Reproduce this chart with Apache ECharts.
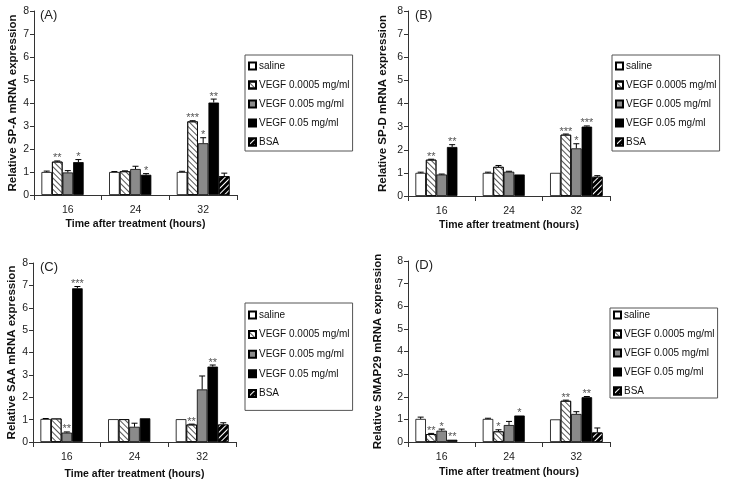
<!DOCTYPE html>
<html>
<head>
<meta charset="utf-8">
<script src="https://cdn.jsdelivr.net/npm/echarts@6/dist/echarts.min.js"></script>
<style>
html,body{margin:0;padding:0;background:#fff;}
#chart{width:729px;height:488px;}
</style>
</head>
<body>
<div id="chart"></div>
<script>
// ---------- DATA ----------
const categories = ['16', '24', '32'];
const seriesNames = ['saline', 'VEGF 0.0005 mg/ml', 'VEGF 0.005 mg/ml', 'VEGF 0.05 mg/ml', 'BSA'];
const yMin = 0, yMax = 8, yInterval = 1;

// (A) SP-A
const spaSaline = [1.0, 1.0, 1.0];
const spaV0005  = [1.45, 1.03, 3.2];
const spaV005   = [0.98, 1.13, 2.25];
const spaV05    = [1.43, 0.88, 4.02];
const spaBSA    = [null, null, 0.82];
const spaErrSaline = [0.04, 0.02, 0.03];
const spaErrV0005  = [0.03, 0.02, 0.03];
const spaErrV005   = [0.08, 0.12, 0.24];
const spaErrV05    = [0.11, 0.05, 0.15];
const spaErrBSA    = [null, null, 0.13];
const spaStarsV0005 = ['**', '', '***'];
const spaStarsV005  = ['', '', '*'];
const spaStarsV05   = ['*', '*', '**'];

// (B) SP-D
const spdSaline = [1.0, 1.0, 1.0];
const spdV0005  = [1.57, 1.26, 2.65];
const spdV005   = [0.93, 1.05, 2.06];
const spdV05    = [2.12, 0.93, 3.0];
const spdBSA    = [null, null, 0.83];
const spdErrSaline = [0.03, 0.03, 0.0];
const spdErrV0005  = [0.02, 0.06, 0.03];
const spdErrV005   = [0.02, 0.02, 0.2];
const spdErrV05    = [0.1, 0.0, 0.03];
const spdErrBSA    = [null, null, 0.05];
const spdStarsV0005 = ['**', '', '***'];
const spdStarsV005  = ['', '', '*'];
const spdStarsV05   = ['**', '', '***'];

// (C) SAA
const saaSaline = [1.03, 1.02, 1.02];
const saaV0005  = [1.05, 1.02, 0.78];
const saaV005   = [0.42, 0.68, 2.35];
const saaV05    = [6.87, 1.06, 3.37];
const saaBSA    = [null, null, 0.78];
const saaErrSaline = [0.02, 0.0, 0.0];
const saaErrV0005  = [0.0, 0.0, 0.02];
const saaErrV005   = [0.03, 0.16, 0.6];
const saaErrV05    = [0.08, 0.0, 0.07];
const saaErrBSA    = [null, null, 0.08];
const saaStarsV0005 = ['', '', '**'];
const saaStarsV005  = ['**', '', ''];
const saaStarsV05   = ['***', '', '**'];

// (D) SMAP29
const smapSaline = [1.02, 1.02, 1.0];
const smapV0005  = [0.35, 0.47, 1.82];
const smapV005   = [0.5, 0.75, 1.24];
const smapV05    = [0.1, 1.17, 1.98];
const smapBSA    = [null, null, 0.42];
const smapErrSaline = [0.08, 0.03, 0.0];
const smapErrV0005  = [0.03, 0.07, 0.03];
const smapErrV005   = [0.07, 0.16, 0.1];
const smapErrV05    = [0.0, 0.0, 0.03];
const smapErrBSA    = [null, null, 0.2];
const smapStarsV0005 = ['**', '*', '**'];
const smapStarsV005  = ['*', '', ''];
const smapStarsV05   = ['**', '*', '**'];

// ---------- LAYOUT / STYLE ----------
const FONT = '"Liberation Sans", Arial, Helvetica, sans-serif';
const panels = [
  { tag: '(A)', yName: 'Relative SP-A mRNA expression',
    vals: [spaSaline, spaV0005, spaV005, spaV05, spaBSA],
    errs: [spaErrSaline, spaErrV0005, spaErrV005, spaErrV05, spaErrBSA],
    stars: [null, spaStarsV0005, spaStarsV005, spaStarsV05, null],
    grid: { left: 34, top: 11, width: 203, height: 184 }, yGap: 15, xGap: 24,
    legend: { left: 245, top: 55, padding: [5, 3, 3, 3], itemGap: 7 },
    tagPos: { left: 40, top: 9 } },
  { tag: '(B)', yName: 'Relative SP-D mRNA expression',
    vals: [spdSaline, spdV0005, spdV005, spdV05, spdBSA],
    errs: [spdErrSaline, spdErrV0005, spdErrV005, spdErrV05, spdErrBSA],
    stars: [null, spdStarsV0005, spdStarsV005, spdStarsV05, null],
    grid: { left: 408, top: 11, width: 202, height: 185 }, yGap: 19, xGap: 24,
    legend: { left: 612, top: 55, padding: [5, 3, 3, 3], itemGap: 7 },
    tagPos: { left: 415, top: 9 } },
  { tag: '(C)', yName: 'Relative SAA mRNA expression',
    vals: [saaSaline, saaV0005, saaV005, saaV05, saaBSA],
    errs: [saaErrSaline, saaErrV0005, saaErrV005, saaErrV05, saaErrBSA],
    stars: [null, saaStarsV0005, saaStarsV005, saaStarsV05, null],
    grid: { left: 33, top: 263, width: 203, height: 179 }, yGap: 15, xGap: 27,
    legend: { left: 245, top: 303, padding: [6, 3, 11, 3], itemGap: 7.6 },
    tagPos: { left: 40, top: 261 } },
  { tag: '(D)', yName: 'Relative SMAP29 mRNA expression',
    vals: [smapSaline, smapV0005, smapV005, smapV05, smapBSA],
    errs: [smapErrSaline, smapErrV0005, smapErrV005, smapErrV05, smapErrBSA],
    stars: [null, smapStarsV0005, smapStarsV005, smapStarsV05, null],
    grid: { left: 408, top: 261, width: 202, height: 181 }, yGap: 24, xGap: 25,
    legend: { left: 610, top: 308, padding: [1, 3, 1, 3], itemGap: 7 },
    tagPos: { left: 415, top: 259 } }
];

const hatchLight = { symbol: 'rect', symbolSize: 1, color: '#555', dashArrayX: [1, 0], dashArrayY: [0.8, 2.6], rotation: Math.PI / 4 };
const hatchDark  = { symbol: 'rect', symbolSize: 1, color: '#fff', dashArrayX: [1, 0], dashArrayY: [0.9, 2.6], rotation: -Math.PI / 4 };
const barStyles = [
  { color: '#ffffff' },
  { color: '#ffffff', decal: hatchLight },
  { color: '#8a8a8a' },
  { color: '#000000' },
  { color: '#000000', decal: hatchDark }
];
const GAP = 0.22;

const option = {
  animation: false,
  backgroundColor: '#ffffff',
  title: [], grid: [], xAxis: [], yAxis: [], legend: [], series: []
};

panels.forEach((p, k) => {
  option.title.push({ text: p.tag, left: p.tagPos.left, top: p.tagPos.top, padding: 0,
    textStyle: { fontFamily: FONT, fontSize: 13, fontWeight: 'normal', color: '#222' } });
  option.grid.push(Object.assign({ containLabel: false }, p.grid));
  option.xAxis.push({
    type: 'category', gridIndex: k, data: categories,
    name: 'Time after treatment (hours)', nameLocation: 'middle', nameGap: p.xGap,
    nameTextStyle: { fontFamily: FONT, fontSize: 10.5, fontWeight: 'bold', color: '#111' },
    axisLine: { lineStyle: { color: '#333', width: 1 } },
    axisTick: { show: true, length: 5, lineStyle: { color: '#333' } },
    axisLabel: { fontFamily: FONT, fontSize: 10.5, color: '#222', margin: 10 },
    splitLine: { show: false }
  });
  option.yAxis.push({
    type: 'value', gridIndex: k, min: yMin, max: yMax, interval: yInterval,
    name: p.yName, nameLocation: 'middle', nameGap: p.yGap, nameRotate: 90,
    nameMoveOverlap: false,
    nameTextStyle: { fontFamily: FONT, fontSize: 11.5, fontWeight: 'bold', color: '#111' },
    axisLine: { show: true, lineStyle: { color: '#333', width: 1 } },
    axisTick: { show: true, length: 4, lineStyle: { color: '#333' } },
    axisLabel: { fontFamily: FONT, fontSize: 10.5, color: '#222', margin: 5 },
    splitLine: { show: false }
  });
  option.legend.push({
    orient: 'vertical', left: p.legend.left, top: p.legend.top,
    padding: p.legend.padding, itemGap: p.legend.itemGap,
    itemWidth: 7, itemHeight: 7, icon: 'rect',
    borderColor: '#555', borderWidth: 1, backgroundColor: '#fff',
    selectedMode: false, data: seriesNames,
    textStyle: { fontFamily: FONT, fontSize: 10, color: '#111', lineHeight: 12, padding: [0, 0, 0, -2] }
  });
  seriesNames.forEach((name, i) => {
    option.series.push({
      type: 'bar', name: name, xAxisIndex: k, yAxisIndex: k,
      data: p.vals[i], barGap: '0%', barCategoryGap: (GAP * 100) + '%',
      itemStyle: Object.assign({ borderColor: '#000', borderWidth: 0.8 }, barStyles[i]),
      emphasis: { disabled: true }, z: 2
    });
  });
  // error bars + significance marks
  const items = [];
  for (let i = 0; i < seriesNames.length; i++) {
    for (let c = 0; c < categories.length; c++) {
      const v = p.vals[i][c];
      if (v === null || v === undefined) continue;
      items.push({ value: [c, v, p.errs[i][c] || 0, i], stars: p.stars[i] ? p.stars[i][c] : '' });
    }
  }
  option.series.push({
    type: 'custom', name: 'err' + k, xAxisIndex: k, yAxisIndex: k, z: 5,
    data: items.map(d => d.value),
    encode: { x: 0, y: 1 },
    silent: true,
    renderItem: function (params, api) {
      const c = api.value(0), v = api.value(1), e = api.value(2), i = api.value(3);
      const bw = api.size([1, 0])[0];
      const barW = bw * (1 - GAP) / seriesNames.length;
      const cx = api.coord([c, 0])[0] - barW * seriesNames.length / 2 + (i + 0.5) * barW;
      const y0 = api.coord([c, v])[1];
      const y1 = api.coord([c, v + e])[1];
      const children = [];
      if (e > 0) {
        children.push({ type: 'line', shape: { x1: cx, y1: y0, x2: cx, y2: y1 }, style: { stroke: '#000', lineWidth: 1 } });
        children.push({ type: 'line', shape: { x1: cx - 3, y1: y1, x2: cx + 3, y2: y1 }, style: { stroke: '#000', lineWidth: 1 } });
      }
      const s = items[params.dataIndex].stars;
      if (s) {
        children.push({ type: 'text', style: { text: s, x: cx, y: y1 + 3, align: 'center', verticalAlign: 'bottom',
          font: '11px ' + FONT, fill: '#555' } });
      }
      return { type: 'group', children: children };
    }
  });
});

const chart = echarts.init(document.getElementById('chart'), null, { renderer: 'canvas' });
chart.setOption(option);
</script>
</body>
</html>
